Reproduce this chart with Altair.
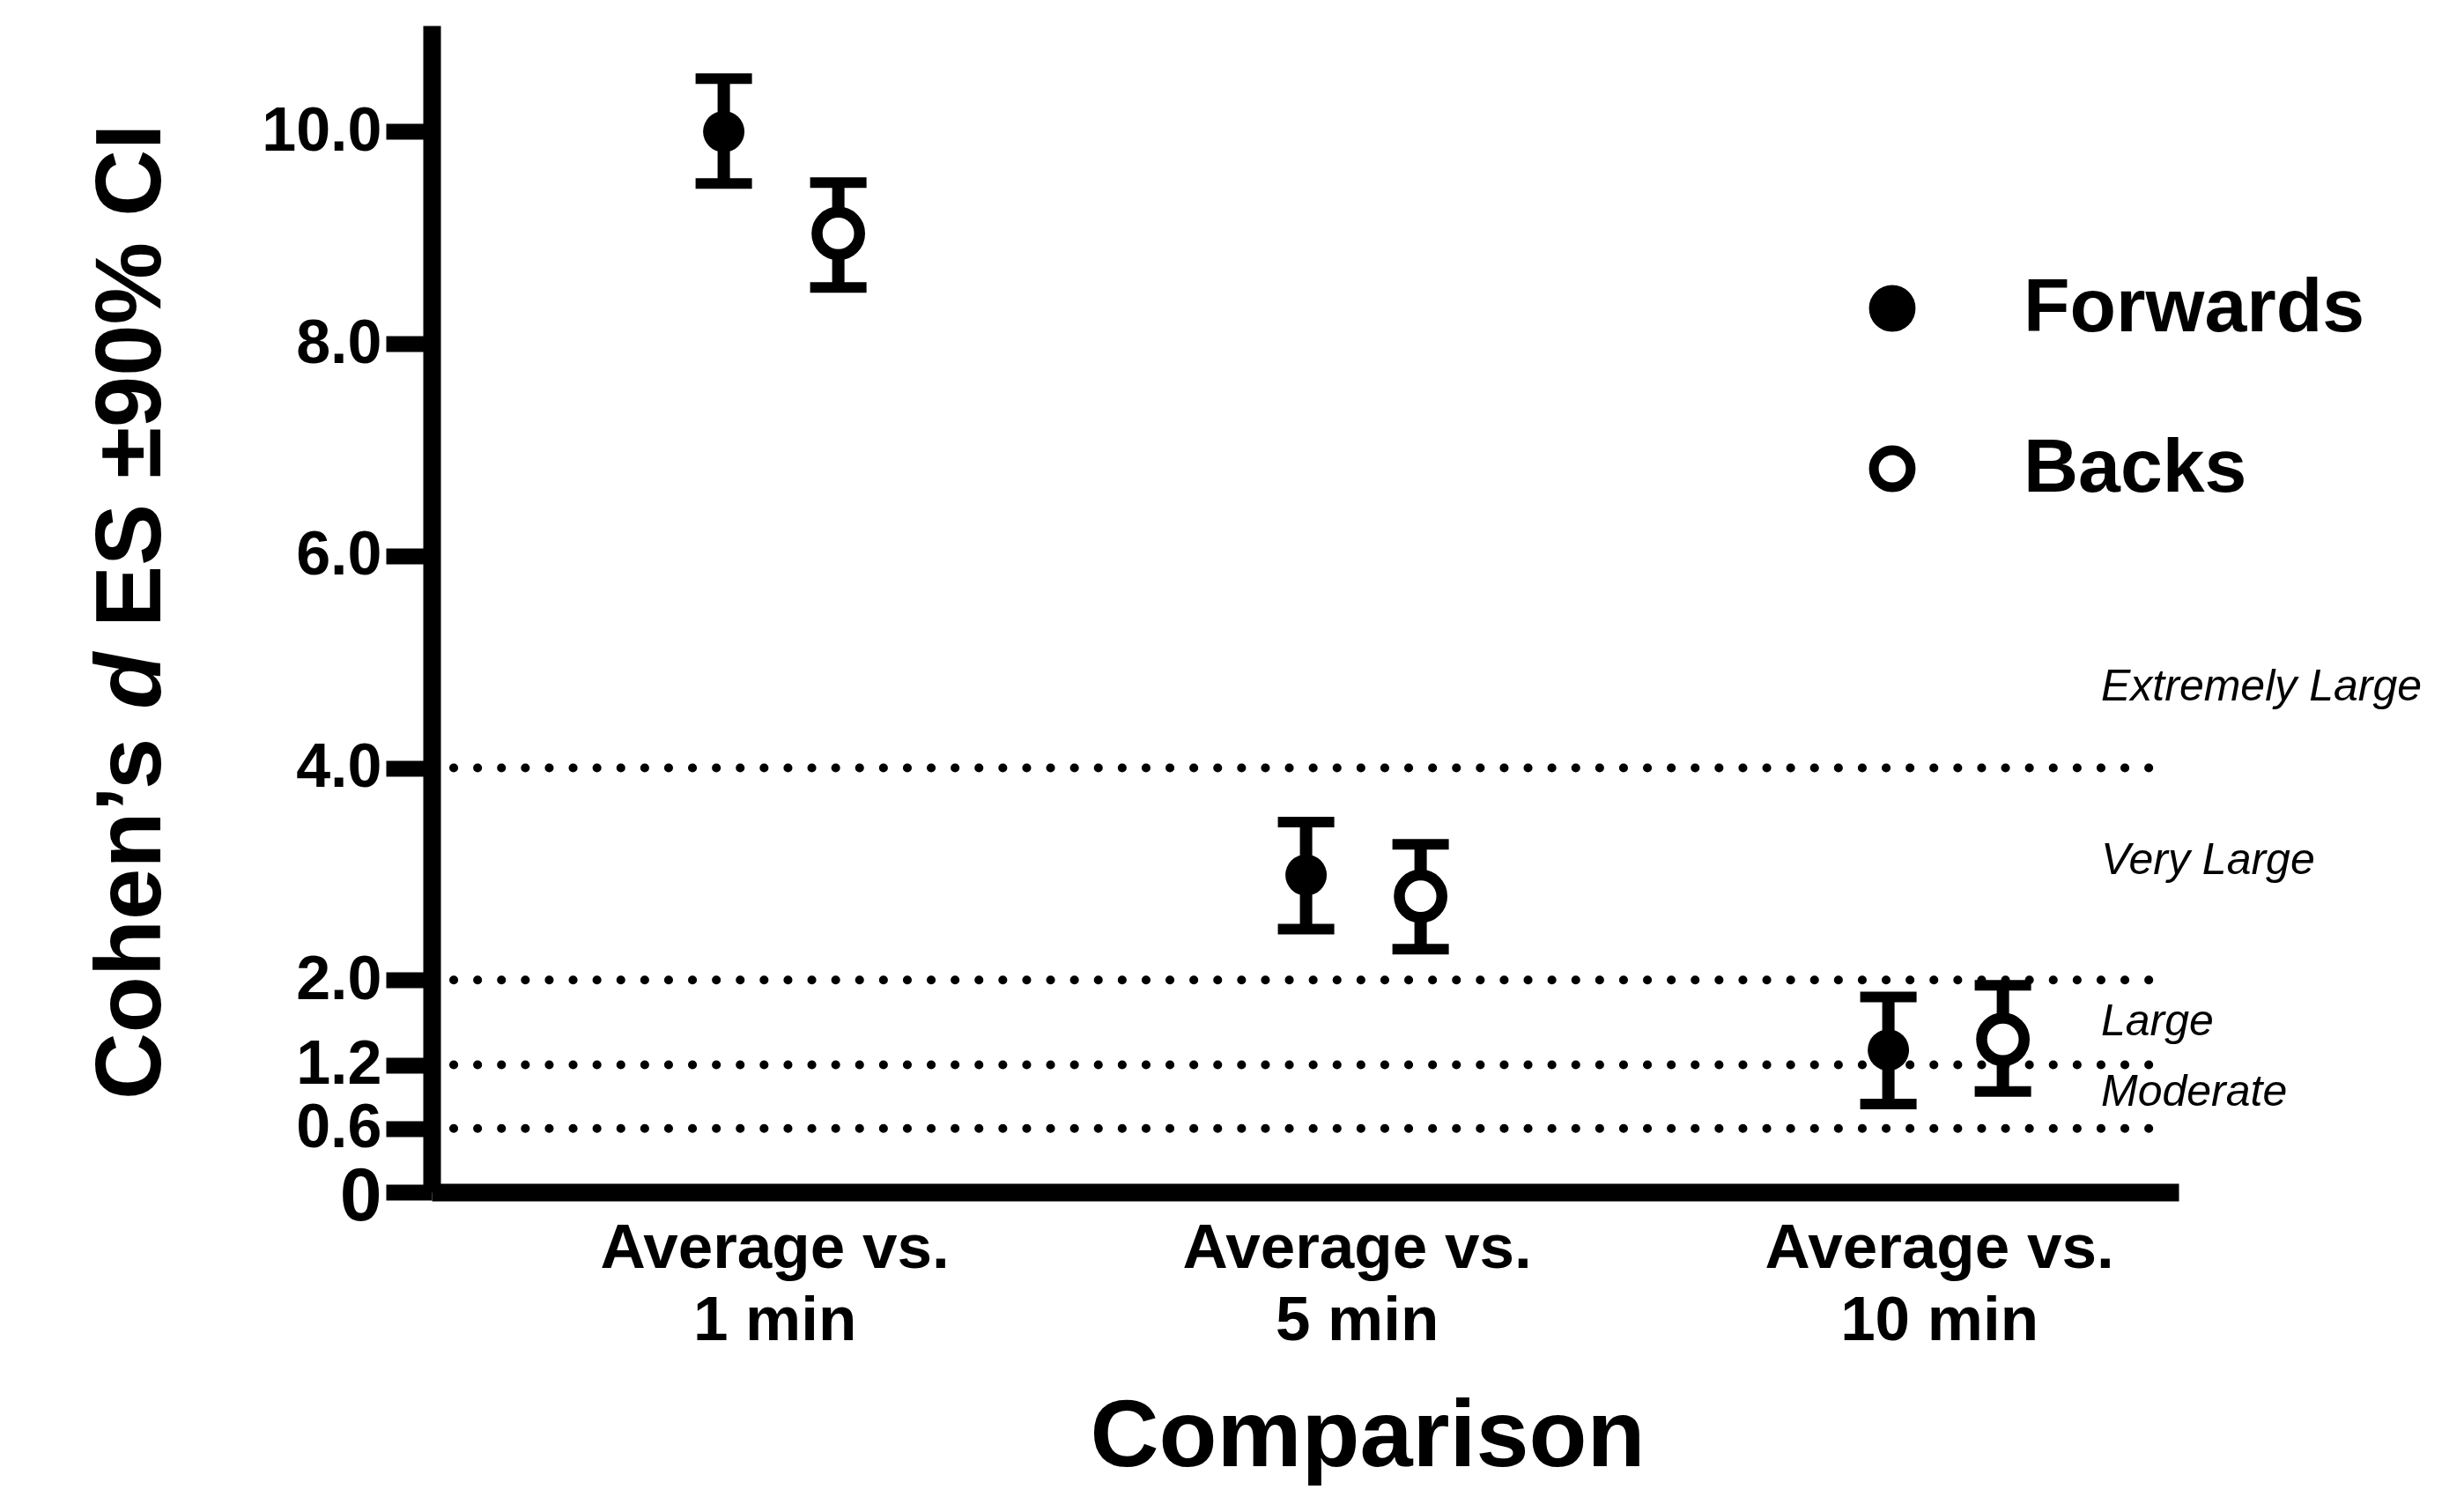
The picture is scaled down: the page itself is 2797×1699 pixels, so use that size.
import altair as alt
import pandas as pd

# ---- data ----
comparisons = ["Average vs. 1 min", "Average vs. 5 min", "Average vs. 10 min"]
groups = ["Forwards", "Backs"]

forwards_es = [10.00, 2.99, 1.34]
forwards_lo = [9.51, 2.48, 0.83]
forwards_hi = [10.50, 3.49, 1.84]

backs_es = [9.04, 2.79, 1.44]
backs_lo = [8.53, 2.29, 0.95]
backs_hi = [9.52, 3.28, 1.95]

thresholds = [4.0, 2.0, 1.2, 0.6]
zone_labels = ["Extremely Large", "Very Large", "Large", "Moderate"]
zone_y = [4.76, 3.12, 1.60, 0.94]

y_ticks = [0, 0.6, 1.2, 2, 4, 6, 8, 10]

# ---- build table ----
rows = []
for i, c in enumerate(comparisons):
    rows.append({"comparison": c, "group": "Forwards", "es": forwards_es[i],
                 "lo": forwards_lo[i], "hi": forwards_hi[i]})
    rows.append({"comparison": c, "group": "Backs", "es": backs_es[i],
                 "lo": backs_lo[i], "hi": backs_hi[i]})
df = pd.DataFrame(rows)

FONT = "Liberation Sans"
W, H = 1983, 1324

y_scale = alt.Scale(domain=[0, 11], nice=False, zero=True)
x_scale = alt.Scale(domain=comparisons, paddingInner=0.5, paddingOuter=0.25, align=0.7)
xo_scale = alt.Scale(domain=groups, paddingInner=0, paddingOuter=0.271)

y_axis = alt.Axis(
    values=y_ticks,
    labelExpr="datum.value == 0 ? '0' : format(datum.value, '.1f')",
    labelFont=FONT, labelFontWeight="bold",
    labelFontSize={"condition": {"test": "datum.value == 0", "value": 86}, "value": 70},
    labelOffset={"condition": {"test": "datum.value == 0", "value": 5}, "value": 0},
    labelColor="black", labelPadding=5, labelOverlap=False, labelBaseline="middle",
    tickSize=52, tickWidth=18, tickColor="black",
    domainColor="black", domainWidth=20, grid=False, title=None,
)

x_axis = alt.Axis(
    labelExpr="['Average vs.', replace(datum.label, 'Average vs. ', '')]",
    labelAngle=0, labelFont=FONT, labelFontWeight="bold", labelFontSize=71,
    labelLineHeight=82, labelColor="black", labelPadding=29, labelBaseline="top",
    labelLimit=1000, labelOffset=-7,
    ticks=False, tickSize=0, domainColor="black", domainWidth=20, grid=False,
    title="Comparison", titleFont=FONT, titleFontSize=108, titleFontWeight="bold",
    titleColor="black", titleX=1062, titleY=310, titleBaseline="alphabetic",
    titleAlign="center", titleLimit=2000,
)


def X():
    return alt.X("comparison:N", scale=x_scale, axis=x_axis)


def XO():
    return alt.XOffset("group:N", scale=xo_scale)


def Y(field):
    return alt.Y(field, scale=y_scale, axis=y_axis)


base = alt.Chart(df)

thr = alt.Chart(pd.DataFrame({"t": thresholds})).mark_rule(
    strokeDash=[0.1, 27], strokeCap="round", strokeWidth=10, color="black"
).encode(
    y=Y("t:Q"),
    x=alt.value(25), x2=alt.value(1972),
)

bars = base.mark_rule(strokeWidth=14, color="black").encode(
    x=X(), xOffset=XO(), y=Y("lo:Q"), y2="hi:Q",
)

cap_lo = base.mark_tick(size=64, thickness=12, color="black", opacity=1).encode(
    x=X(), xOffset=XO(), y=Y("lo:Q"),
)
cap_hi = base.mark_tick(size=64, thickness=12, color="black", opacity=1).encode(
    x=X(), xOffset=XO(), y=Y("hi:Q"),
)

legend = alt.Legend(
    orient="none", legendX=1615, legendY=278, title=None,
    labelFont=FONT, labelFontWeight="bold", labelFontSize=86, labelColor="black",
    labelOffset=106, labelLimit=1000, rowPadding=96, padding=0,
    symbolType="circle", symbolSize=1750, symbolStrokeColor="black",
    symbolStrokeWidth=11, symbolOpacity=1,
)

points = base.mark_point(shape="circle", stroke="black", opacity=1).encode(
    x=X(), xOffset=XO(), y=Y("es:Q"),
    fill=alt.Fill("group:N", scale=alt.Scale(domain=groups, range=["black", "white"]),
                  legend=legend),
    size=alt.condition(alt.datum.group == "Forwards", alt.value(2206), alt.value(2333)),
    strokeWidth=alt.condition(alt.datum.group == "Forwards", alt.value(0), alt.value(12.5)),
)

zones = alt.Chart(pd.DataFrame({"label": zone_labels, "zy": zone_y})).mark_text(
    font=FONT, fontStyle="italic", fontSize=50, align="left", baseline="middle",
    color="black"
).encode(
    text="label:N",
    y=Y("zy:Q"),
    x=alt.value(1895),
)

# y-axis title with italic "d", drawn as three pieces
yt_parts = ["Cohen\u2019s", "d", "ES \u00b190% CI"]
YT_SIZE = 105
YT_X = -308
YT_Y0 = 1219
SPACE = 29
W_COHENS = 414
W_D = 64
yt1 = alt.Chart(pd.DataFrame({"t": [yt_parts[0]]})).mark_text(
    font=FONT, fontWeight="bold", fontSize=YT_SIZE, angle=270, align="left",
    baseline="alphabetic", color="black"
).encode(text="t:N", x=alt.value(YT_X), y=alt.value(YT_Y0))
yt2 = alt.Chart(pd.DataFrame({"t": [yt_parts[1]]})).mark_text(
    font=FONT, fontWeight="bold", fontStyle="italic", fontSize=YT_SIZE, angle=270,
    align="left", baseline="alphabetic", color="black"
).encode(text="t:N", x=alt.value(YT_X), y=alt.value(YT_Y0 - W_COHENS - SPACE))
yt3 = alt.Chart(pd.DataFrame({"t": [yt_parts[2]]})).mark_text(
    font=FONT, fontWeight="bold", fontSize=YT_SIZE, angle=270, align="left",
    baseline="alphabetic", color="black"
).encode(text="t:N", x=alt.value(YT_X),
         y=alt.value(YT_Y0 - W_COHENS - SPACE - W_D - SPACE))

chart = alt.layer(
    thr, bars, cap_lo, cap_hi, points, zones, yt1, yt2, yt3
).properties(
    width=W, height=H,
    autosize=alt.AutoSizeParams(type="none"),
    padding={"left": 482, "top": 21, "right": 316, "bottom": 338},
    background="white",
).configure_view(stroke=None)

chart.save("out.html", embed_options={"renderer": "svg", "actions": False})
